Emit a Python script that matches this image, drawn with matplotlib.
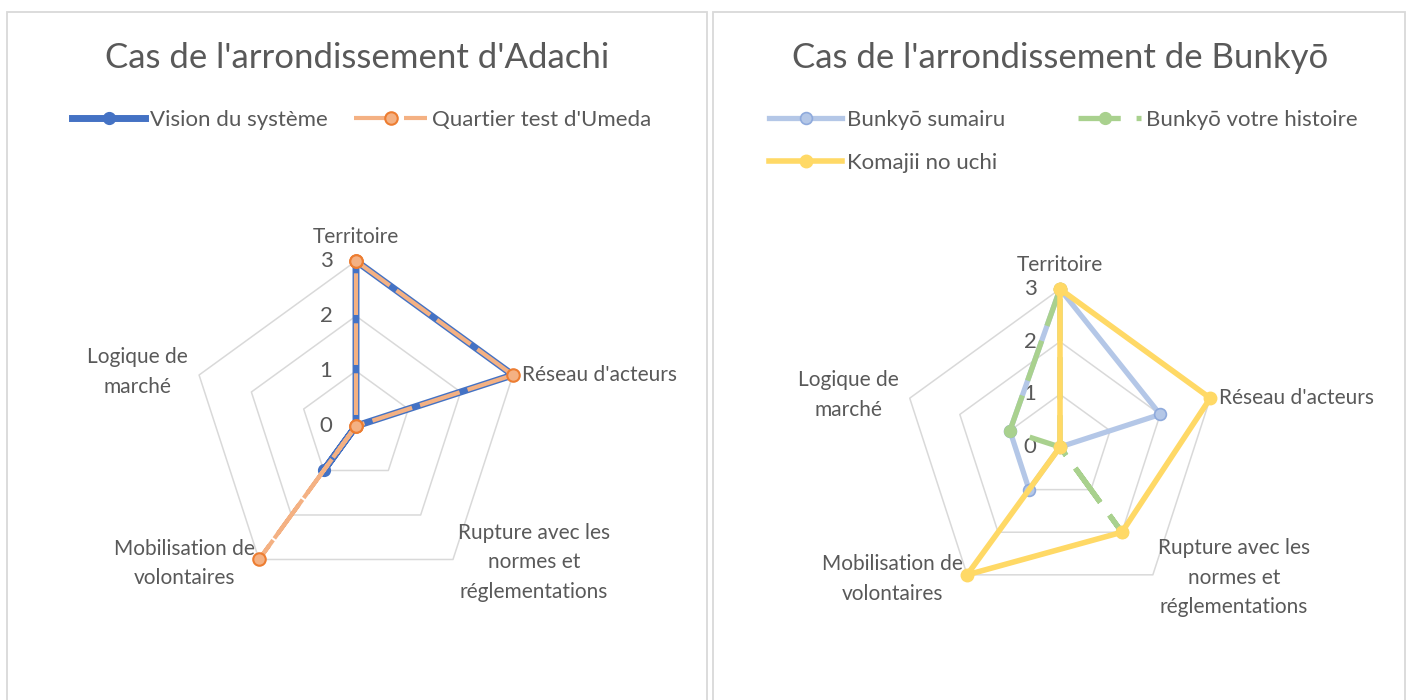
import numpy as np
import matplotlib
matplotlib.use('Agg')
import matplotlib.pyplot as plt
from matplotlib.lines import Line2D
from matplotlib.patches import Rectangle

plt.rcParams['font.family'] = ['Lato', 'DejaVu Sans']

# data
categories = ['Territoire', "Réseau d'acteurs", 'Rupture avec les\nnormes et\nréglementations',
              'Mobilisation de\nvolontaires', 'Logique de\nmarché']
ticks = [0, 1, 2, 3]

adachi_names = ['Vision du système', "Quartier test d'Umeda"]
vision = [3, 3, 0, 1, 0]
umeda = [3, 3, 0, 3, 0]

bunkyo_names = ['Bunkyō sumairu', 'Bunkyō votre histoire', 'Komajii no uchi']
sumairu = [3, 2, 0, 1, 1]
histoire = [3, 0, 2, 0, 1]
komajii = [3, 3, 2, 3, 0]

W, H = 1412, 700
TXT = '#595959'
GRID = '#d9d9d9'
FS = 15

fig = plt.figure(figsize=(W / 100, H / 100), dpi=100)

# panel frames
for x0, x1 in [(7, 707), (713, 1405)]:
    fig.add_artist(Rectangle((x0 / W, -0.05), (x1 - x0) / W, 1.05 - 12 / H,
                             transform=fig.transFigure, fill=False, ec=GRID, lw=1.3))

theta = 2 * np.pi * np.arange(len(categories)) / len(categories)
theta_c = np.append(theta, theta[0])

# label placement: (dx, dy, ha) in pixels from outer vertex
lab_pos = [(0, 24, 'center'), (9, 0, 'left'), (5, -3, 'left'), (-4, -4, 'right'), (-11, 3, 'right')]


def radar(cx, cy, r):
    ax = fig.add_axes([(cx - r) / W, (H - cy - r) / H, 2 * r / W, 2 * r / H], projection='polar')
    ax.set_theta_offset(np.pi / 2)
    ax.set_theta_direction(-1)
    ax.set_ylim(0, 3)
    ax.grid(False)
    ax.spines['polar'].set_visible(False)
    ax.set_xticks([])
    ax.set_yticks([])
    ax.patch.set_alpha(0)
    for k in ticks[1:]:
        ax.plot(theta_c, [k] * len(theta_c), color=GRID, lw=1.1, zorder=1, clip_on=False)
    for k in ticks:
        ax.annotate(str(k), xy=(0, k), xytext=(-30, 0), textcoords='offset pixels',
                    ha='center', va='center', fontsize=16, color=TXT, annotation_clip=False)
    for t, lab, (dx, dy, ha) in zip(theta, categories, lab_pos):
        ax.annotate(lab, xy=(t, 3), xytext=(dx, dy), textcoords='offset pixels', ha=ha, va='center',
                    multialignment='center', linespacing=1.6, fontsize=FS, color=TXT,
                    annotation_clip=False)
    return ax


def series(ax, vals, **kw):
    v = np.append(vals, vals[0])
    ax.plot(theta_c, v, clip_on=False, **kw)


# --- Adachi ---
ax1 = radar(356, 426, 165)
sty_vision = dict(color='#4472c4', lw=5, marker='o', ms=8.5, mfc='#4472c4', mec='#4472c4')
sty_umeda = dict(color='#f4b183', lw=3, ls=(0, (10, 2)), marker='o', ms=9, mfc='#f4b183',
                 mec='#ed7d31', mew=1.5)
series(ax1, vision, zorder=3, **sty_vision)
series(ax1, umeda, zorder=4, **sty_umeda)
fig.text(357 / W, 1 - 58 / H, "Cas de l'arrondissement d'Adachi", ha='center', va='center',
         fontsize=25, color=TXT)

# --- Bunkyo ---
ax2 = radar(1060, 447, 158)
sty_sum = dict(color='#b4c7e7', lw=3.8, marker='o', ms=8.5, mfc='#b4c7e7', mec='#8faadc', mew=1.2)
# dash offset chosen so the back-and-forth pass over the Rupture spoke keeps its gaps
sty_his = dict(color='#a9d18e', lw=3.8, ls=(9.1, (8, 3)), marker='o', ms=8.5, mfc='#a9d18e', mec='#a9d18e')
sty_kom = dict(color='#ffd966', lw=4, marker='o', ms=9, mfc='#ffd966', mec='#ffd966')
series(ax2, sumairu, zorder=3, **sty_sum)
series(ax2, histoire, zorder=4, **sty_his)
series(ax2, komajii, zorder=5, **sty_kom)
fig.text(1060 / W, 1 - 58 / H, "Cas de l'arrondissement de Bunkyō", ha='center', va='center',
         fontsize=25, color=TXT)


# legends
def leg(handles, labels, x, y):
    lg = fig.legend(handles, labels, loc='center left', bbox_to_anchor=(x / W, 1 - y / H),
                    frameon=False, fontsize=16, handlelength=3.3, handletextpad=0.22,
                    borderpad=0, borderaxespad=0, labelspacing=1.05, labelcolor=TXT)
    return lg


def h(sty):
    return Line2D([], [], **sty)


leg([h(sty_vision)], [adachi_names[0]], 72, 120)
leg([h(sty_umeda)], [adachi_names[1]], 354, 120)
leg([h(sty_sum), h(sty_kom)], [bunkyo_names[0], bunkyo_names[2]], 769, 141.5)
leg([h(sty_his)], [bunkyo_names[1]], 1068, 120)

fig.savefig('out.png', dpi=100, facecolor='white')
